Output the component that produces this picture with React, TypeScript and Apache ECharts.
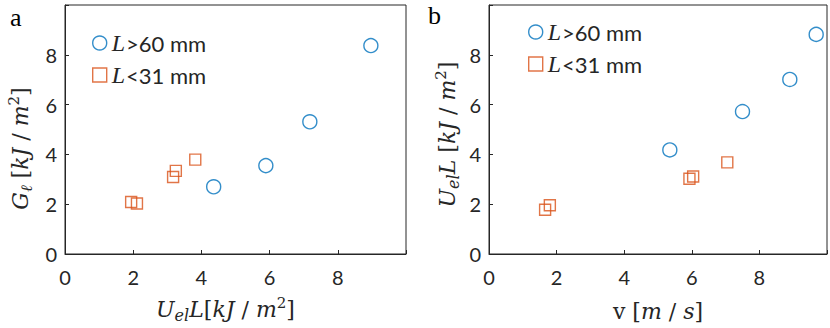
import React, { useEffect, useRef } from "react";
import * as echarts from "echarts";

const ticks = [0, 2, 4, 6, 8];
const seriesNames = ["L>60 mm", "L<31 mm"];

const aCircleX = [4.36, 5.89, 7.18, 8.97];
const aCircleY = [2.7, 3.55, 5.31, 8.37];
const aSquareX = [1.94, 2.11, 3.17, 3.25, 3.82];
const aSquareY = [2.09, 2.03, 3.09, 3.34, 3.79];

const bCircleX = [5.35, 7.5, 8.9, 9.68];
const bCircleY = [4.18, 5.72, 7.01, 8.82];
const bSquareX = [1.66, 1.8, 5.93, 6.04, 7.05];
const bSquareY = [1.78, 1.96, 3.02, 3.11, 3.68];

const BLUE = "#0072BD";
const ORANGE = "#D95319";
const DARK = "#262626";
const SERIF = "'Liberation Serif', 'DejaVu Serif', serif";
const MATH = "'DejaVu Serif', 'Liberation Serif', serif";
const SANS = "Lato, 'Open Sans', sans-serif";

const zip = (xs: number[], ys: number[]) => xs.map((x, i) => [x, ys[i]]);

const mathRich = {
  m: { fontFamily: MATH, fontStyle: "italic", fontSize: 22, lineHeight: 28, color: DARK },
  r: { fontFamily: MATH, fontSize: 22, lineHeight: 28, color: DARK },
  sub: { fontFamily: MATH, fontStyle: "italic", fontSize: 16, lineHeight: 16, verticalAlign: "bottom", color: DARK },
  sup: { fontFamily: MATH, fontSize: 15, lineHeight: 16, verticalAlign: "top", color: DARK },
};

function makeX(gridIndex: number, name: string, gap: number, pad: number[]) {
  return {
    type: "value",
    gridIndex,
    min: 0,
    max: 10,
    interval: 2,
    name,
    nameLocation: "middle",
    nameGap: gap,
    nameTextStyle: { rich: mathRich, padding: pad },
    axisLine: { show: true, lineStyle: { color: DARK, width: 1 } },
    axisTick: { show: true, inside: true, length: 4, lineStyle: { color: DARK } },
    axisLabel: {
      color: DARK,
      fontFamily: SANS,
      fontSize: 20,
      lineHeight: 20,
      margin: 13,
      formatter: (v: number) => (ticks.includes(v) ? String(v) : ""),
    },
    splitLine: { show: false },
  };
}

function makeY(gridIndex: number, name: string, gap: number, pad: number[]) {
  return {
    type: "value",
    gridIndex,
    min: 0,
    max: 10,
    interval: 2,
    name,
    nameLocation: "middle",
    nameRotate: 90,
    nameGap: gap,
    nameTextStyle: { rich: mathRich, padding: pad },
    axisLine: { show: true, lineStyle: { color: DARK, width: 1 } },
    axisTick: { show: true, inside: true, length: 4, lineStyle: { color: DARK } },
    axisLabel: {
      color: DARK,
      fontFamily: SANS,
      fontSize: 20,
      margin: 8,
      formatter: (v: number) => (ticks.includes(v) ? String(v) : ""),
    },
    splitLine: { show: false },
  };
}

function circleSeries(idx: number, data: number[][]) {
  return {
    type: "scatter",
    name: seriesNames[0],
    xAxisIndex: idx,
    yAxisIndex: idx,
    symbol: "circle",
    symbolSize: 14,
    data,
    itemStyle: { color: "rgba(0,0,0,0)", borderColor: BLUE, borderWidth: 1.4 },
    emphasis: { disabled: true },
  };
}

function squareSeries(idx: number, data: number[][]) {
  return {
    type: "scatter",
    name: seriesNames[1],
    xAxisIndex: idx,
    yAxisIndex: idx,
    symbol: "rect",
    symbolSize: 11,
    data,
    itemStyle: { color: "rgba(0,0,0,0)", borderColor: ORANGE, borderWidth: 1.4 },
    emphasis: { disabled: true },
  };
}

function makeLegend(left: number, top: number) {
  return {
    orient: "vertical",
    left,
    top,
    padding: 0,
    itemWidth: 14,
    itemHeight: 14,
    itemGap: 8,
    selectedMode: false,
    data: [
      { name: seriesNames[0], icon: "circle", itemStyle: { color: "rgba(0,0,0,0)", borderColor: BLUE, borderWidth: 1.4 } },
      { name: seriesNames[1], icon: "rect", itemStyle: { color: "rgba(0,0,0,0)", borderColor: ORANGE, borderWidth: 1.4 } },
    ],
    formatter: (name: string) => `{i|${name.slice(0, 1)}}{s|${name.slice(1)}}`,
    textStyle: {
      rich: {
        i: { fontFamily: SERIF, fontStyle: "italic", fontSize: 24, lineHeight: 26, color: DARK, padding: [0, 1, 0, 0] },
        s: { fontFamily: SANS, fontSize: 22, lineHeight: 26, color: DARK },
      },
    },
  };
}

export default function App() {
  const ref = useRef<HTMLDivElement>(null);
  useEffect(() => {
    if (!ref.current) return;
    const chart = echarts.init(ref.current, null, { renderer: "svg" });
    chart.setOption({
      animation: false,
      backgroundColor: "#ffffff",
      grid: [
        { left: 65, top: 5, width: 341, height: 252, show: true, borderColor: DARK, borderWidth: 1, backgroundColor: "transparent" },
        { left: 489, top: 5, width: 339, height: 249, show: true, borderColor: DARK, borderWidth: 1, backgroundColor: "transparent" },
      ],
      xAxis: [
        makeX(0, "{m|U}{sub|el}{m|L}{r|[}{m|kJ}{r| / }{m|m}{sup|2}{r|]}", 41, [0, 20, 0, 0]),
        makeX(1, "{r|v [}{m|m}{r| / }{m|s}{r|]}", 43, [0, 0, 0, 0]),
      ],
      yAxis: [
        makeY(0, "{m|G}{sub|ℓ}{r| [}{m|kJ}{r| / }{m|m}{sup|2}{r|]}", 31, [0, 38, 0, 0]),
        makeY(1, "{m|U}{sub|el}{m|L}{r| [}{m|kJ}{r| / }{m|m}{sup|2}{r|]}", 28, [0, 10, 0, 0]),
      ],
      legend: [makeLegend(92, 31), makeLegend(528, 20)],
      series: [
        circleSeries(0, zip(aCircleX, aCircleY)),
        squareSeries(0, zip(aSquareX, aSquareY)),
        circleSeries(1, zip(bCircleX, bCircleY)),
        squareSeries(1, zip(bSquareX, bSquareY)),
      ],
      graphic: [
        { type: "text", left: 10, top: 4, style: { text: "a", fontFamily: SERIF, fontSize: 26, fill: "#000" } },
        { type: "text", left: 428, top: 2, style: { text: "b", fontFamily: SERIF, fontSize: 26, fill: "#000" } },
      ],
    });
    return () => chart.dispose();
  }, []);
  return (
    <div
      ref={ref}
      style={{ position: "fixed", left: 0, top: 0, width: 830, height: 328, background: "#fff" }}
    />
  );
}
